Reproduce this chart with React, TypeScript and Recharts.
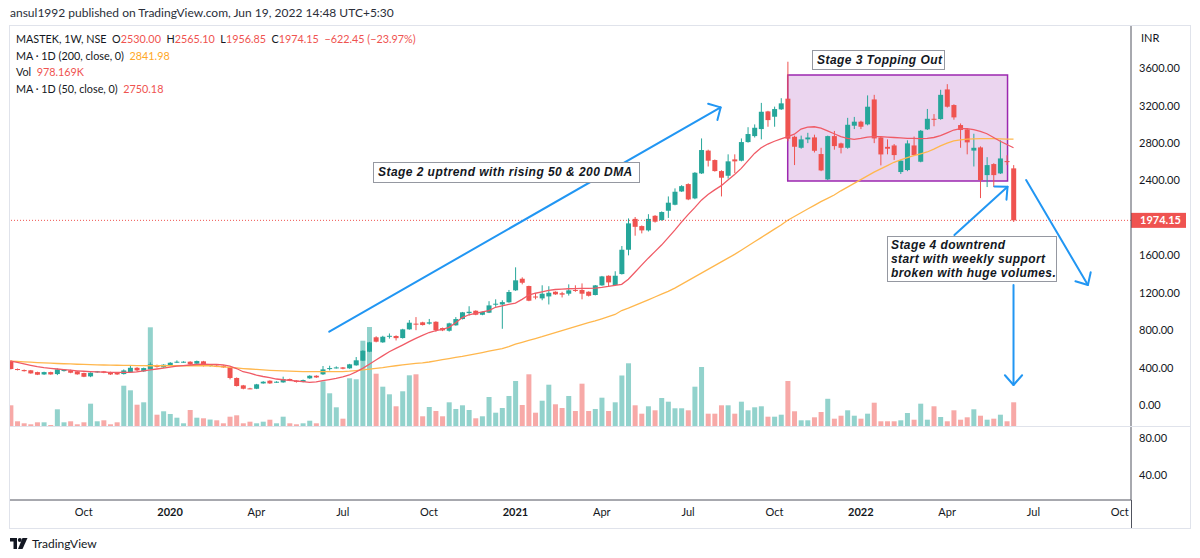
import React from 'react';
import { ComposedChart, Bar, Line, XAxis, YAxis, ReferenceLine, ReferenceArea } from 'recharts';

// Weekly candles, MASTEK NSE, from Jul 22 2019 (index 0) to Jun 13 2022 (index 151)
const opens = [470,385,374,371,352,327,352,331,363,371,360,342,306,349,360,352,345,331,349,398,360,385,428,403,424,456,456,463,442,467,
417,420,420,403,289,210,178,174,231,260,242,242,278,260,246,285,313,328,388,395,
402,392,424,474,570,724,670,730,738,716,809,870,884,870,890,823,794,852,919,983,
1008,965,987,1076,1075,1098,1226,1350,1272,1160,1140,1161,1211,1195,1190,1230,1230,1211,1176,1279,
1382,1283,1400,1660,1990,1913,1867,2023,1977,2077,2141,2283,2362,2209,2476,2720,2619,2501,2451,2626,
2612,2811,2875,2950,3139,3082,3161,3275,2868,2750,2840,2861,2683,2412,2875,2797,2750,2986,3029,3000,
3267,2861,2760,2775,2491,2512,2775,2601,2947,3060,3057,3374,3207,2993,2947,2720,2754,2458,2576,2476,
2608,2530];
const highs = [480,390,380,375,356,356,356,391,382,378,364,346,349,364,364,356,349,381,423,405,400,456,432,436,458,477,468,468,475,472,
436,426,425,408,295,215,184,226,255,264,254,303,283,264,272,318,318,417,420,413,
406,440,513,585,675,735,740,765,745,815,908,940,890,920,895,828,880,940,995,1056,
1012,999,1110,1130,1120,1230,1472,1365,1276,1190,1280,1270,1215,1210,1290,1280,1300,1215,1283,1380,
1386,1430,1700,1995,2010,1920,2040,2030,2070,2230,2316,2350,2370,2490,2850,2730,2625,2510,2680,2680,
2850,2970,3000,3230,3145,3190,3280,3670,2880,2880,2910,2890,2750,2880,2930,2805,3070,3080,3040,3310,
3316,2870,2840,2790,2620,2830,2870,2940,3165,3110,3370,3430,3215,3010,2955,2900,2765,2650,2585,2830,
2670,2565.1];
const lows = [380,370,358,335,320,322,324,320,358,340,324,298,298,345,340,322,322,326,345,356,355,380,400,398,420,450,452,430,438,412,
410,405,398,274,198,168,170,170,228,226,238,238,255,240,242,280,290,322,370,390,
382,388,420,470,565,670,665,710,690,710,805,800,850,860,783,790,785,848,915,957,
960,960,983,1050,815,1094,1220,1290,1110,1130,1120,1075,1178,1150,1170,1210,1130,1160,1172,1275,
1270,1278,1395,1600,1810,1835,1855,1950,1970,2000,2135,2278,2190,2200,2470,2550,2495,2230,2420,2480,
2605,2805,2860,2840,2975,2975,3155,2820,2565,2740,2800,2700,2500,2405,2730,2690,2740,2950,2950,2990,
2800,2562,2680,2620,2470,2500,2665,2595,2940,2980,3050,3180,3050,2750,2680,2550,2212,2330,2330,2470,
2565,1956.85];
const closes = [385,374,362,338,324,352,327,381,378,345,328,302,345,360,345,327,327,370,398,370,395,435,406,431,452,463,463,435,470,417,
431,409,403,289,203,174,174,221,249,231,249,278,260,246,267,313,295,381,395,402,
388,435,478,580,670,677,730,740,715,809,880,860,855,884,802,798,873,919,991,997,
965,994,1065,1083,1100,1208,1333,1307,1115,1150,1190,1200,1183,1180,1226,1220,1190,1168,1279,1375,
1311,1382,1660,1942,1905,1867,1990,1960,2063,2163,2280,2340,2198,2483,2726,2612,2501,2430,2605,2605,
2811,2897,2964,3135,3046,3164,3225,2847,2761,2840,2860,2718,2508,2875,2768,2750,2996,3029,2975,3189,
2850,2679,2740,2672,2612,2797,2672,2932,3060,3050,3316,3189,3075,2940,2808,2750,2405,2565,2458,2636,
2596.6,1974.15];
// volume in thousands
const volumes = [859,226,147,107,186,186,79,701,186,226,107,186,923,226,265,107,186,1635,1453,883,978,3948,487,622,515,368,147,673,368,345,
295,265,147,408,463,147,210,147,210,289,147,408,147,107,147,249,147,1810,1335,780,
329,1929,1889,3417,3960,2111,1596,1295,820,1414,2047,2087,424,792,634,424,978,713,859,673,
345,424,1188,566,752,1228,1822,871,2087,566,1041,1675,899,752,1228,634,1715,634,713,1160,
634,978,2039,2523,859,527,820,661,1148,1002,741,741,661,1596,2376,527,527,859,859,527,
1002,661,780,820,408,408,487,1822,622,265,265,384,594,1117,329,447,661,447,329,527,
962,226,226,226,265,554,289,923,289,820,396,226,661,289,384,701,447,289,329,487,
226,978.169];
const ma50 = [470,455,440,425,410,400,392,385,378,372,366,361,357,354,351,349,348,348,350,355,365,375,385,395,405,415,422,428,433,436,
435,433,430,415,390,356,340,320,305,292,278,270,263,257,250,242,248,260,272,285,
300,321,355,392,436,481,525,570,605,641,677,713,745,775,795,808,830,880,935,965,
980,995,1010,1045,1060,1075,1090,1130,1176,1195,1210,1225,1235,1240,1243,1245,1247,1247,1250,1258,
1268,1280,1290,1345,1420,1495,1570,1640,1710,1790,1870,1955,2035,2110,2190,2250,2300,2345,2405,2465,
2530,2610,2690,2750,2790,2820,2845,2870,2895,2950,2970,2975,2960,2930,2900,2870,2850,2840,2850,2865,
2870,2870,2865,2860,2855,2850,2850,2848,2850,2860,2880,2910,2940,2955,2955,2945,2925,2900,2860,2820,
2785,2750.18];
const ma200 = [470,466,462,458,454,450,447,444,441,439,436,434,432,430,428,427,425,424,423,422,421,420,420,420,420,420,420,420,420,420,
420,414,408,402,396,390,385,380,375,371,368,365,362,360,358,356,356,356,356,357,
358,362,368,375,383,392,400,410,420,430,438,445,450,460,472,485,497,509,520,533,
546,560,575,590,604,625,650,670,690,710,730,752,773,795,816,838,860,880,900,922,
945,968,1010,1035,1065,1095,1125,1155,1185,1215,1250,1290,1330,1370,1410,1450,1490,1530,1570,1610,
1655,1700,1745,1790,1835,1880,1925,1975,2015,2055,2095,2135,2175,2210,2245,2290,2330,2370,2410,2450,
2490,2525,2560,2595,2620,2645,2665,2685,2705,2735,2770,2800,2825,2835,2842,2846,2848,2848,2847,2845,
2843,2841.98];

const tickIdx = [11, 24, 37, 50, 63, 76, 89, 102, 115, 128, 141, 154, 167];
const tickLabels = ['Oct', '2020', 'Apr', 'Jul', 'Oct', '2021', 'Apr', 'Jul', 'Oct', '2022', 'Apr', 'Jul', 'Oct'];
// 2000.00 is hidden behind the last-price label in the reference
const priceTicks = [0, 400, 800, 1200, 1600, 2400, 2800, 3200, 3600];
const lowerTicks = [40, 80];
const lastPrice = 1974.15;

// drawing anchors (index, price)
const stage2Arrow = [{ x: 47.97, y: 784 }, { x: 106.9, y: 3182 }];
const stage4Arrow = [{ x: 142.1, y: 1817 }, { x: 150.1, y: 2334 }];
const downArrow = [{ x: 152.9, y: 2405 }, { x: 162.2, y: 1283 }];
const volArrow = [{ x: 151.0, y: 1283 }, { x: 151.0, y: 214 }];
const stage3Box = { x1: 117.0, x2: 150.1, y1: 2395, y2: 3528 };

const GREEN = '#26a69a';
const RED = '#ef5350';
const AXIS = '#50535e';
const TEXT = '#131722';
const FONT = 'Lato, "Open Sans", sans-serif';
const NOTE_FONT = '"Liberation Sans", Arial, sans-serif';
const XDOMAIN: [number, number] = [-0.105, 168.69];

const Candle = (props: any) => {
  const { x, y, width, height, payload } = props;
  if (x == null || y == null || !payload) return null;
  const { o, h, l, c } = payload;
  const up = c >= o;
  const color = up ? GREEN : RED;
  const span = h - l;
  const toY = (v: number) => (span === 0 ? y : y + ((h - v) / span) * height);
  const top = toY(Math.max(o, c));
  const bot = toY(Math.min(o, c));
  const cx = x + width / 2;
  return (
    <g>
      <line x1={cx} x2={cx} y1={y} y2={y + height} stroke={color} strokeWidth={1} />
      <rect x={x} y={top} width={width} height={Math.max(1, bot - top)} fill={color} />
    </g>
  );
};

const VolBar = (props: any) => {
  const { x, y, width, height, payload } = props;
  if (x == null || y == null || !payload) return null;
  const up = payload.c >= payload.o;
  return <rect x={x} y={y} width={width} height={Math.max(0, height)} fill={up ? 'rgba(38,166,154,0.5)' : 'rgba(239,83,80,0.5)'} />;
};

const makeArrow = (len: number, half: number) => (p: any) => {
  const { x1, y1, x2, y2 } = p;
  if ([x1, y1, x2, y2].some((v) => v == null || isNaN(v))) return null;
  const ang = Math.atan2(y2 - y1, x2 - x1) + Math.PI;
  const a1x = x2 + len * Math.cos(ang - half);
  const a1y = y2 + len * Math.sin(ang - half);
  const a2x = x2 + len * Math.cos(ang + half);
  const a2y = y2 + len * Math.sin(ang + half);
  return (
    <g>
      <line x1={x1} y1={y1} x2={x2} y2={y2} stroke="#2196f3" strokeWidth={2} strokeLinecap="round" />
      <polyline points={`${a1x},${a1y} ${x2},${y2} ${a2x},${a2y}`} fill="none" stroke="#2196f3" strokeWidth={2} strokeLinecap="round" strokeLinejoin="round" />
    </g>
  );
};

const PriceLabel = (props: any) => {
  const vb = props.viewBox || {};
  const x = (vb.x || 0) + (vb.width || 0);
  const y = vb.y || 0;
  return (
    <g>
      <rect x={x} y={y - 7.5} width={55} height={15} fill={RED} />
      <text x={x + 9} y={y + 4} fill="#fff" fontSize={11} fontWeight={700} fontFamily={FONT}>
        {lastPrice.toFixed(2)}
      </text>
    </g>
  );
};

const XTick = (props: any) => {
  const { x, y, payload } = props;
  const idx = tickIdx.indexOf(payload.value);
  const label = idx >= 0 ? tickLabels[idx] : '';
  const isYear = /^\d{4}$/.test(label);
  return (
    <text x={x} y={y} dy="0.71em" textAnchor="middle" fill={TEXT} fontSize={11} fontWeight={isYear ? 700 : 400} fontFamily={FONT}>
      {label}
    </text>
  );
};

const boxStyle: React.CSSProperties = {
  position: 'absolute',
  background: '#fff',
  border: '1px solid #9598a1',
  boxSizing: 'border-box',
  fontStyle: 'italic',
  fontWeight: 700,
  fontSize: 12,
  letterSpacing: 0.45,
  color: TEXT,
  fontFamily: NOTE_FONT,
  whiteSpace: 'nowrap',
  overflow: 'visible',
};

export default function App() {
  const data = opens.map((o, i) => ({
    i,
    o,
    h: highs[i],
    l: lows[i],
    c: closes[i],
    range: [lows[i], highs[i]],
    vol: volumes[i],
    ma50: ma50[i],
    ma200: ma200[i],
  }));

  const red = { color: RED };
  return (
    <div style={{ position: 'absolute', left: 0, top: 0, width: 1200, height: 558, background: '#fff', fontFamily: FONT, overflow: 'hidden' }}>
      <div style={{ position: 'absolute', left: 10, top: 5, fontSize: 12, color: '#2a2e39' }}>
        ansul1992 published on TradingView.com, Jun 19, 2022 14:48 UTC+5:30
      </div>
      <div style={{ position: 'absolute', left: 9, top: 25, width: 1182, height: 504, border: '1px solid #e0e3eb', boxSizing: 'border-box' }} />

      <div style={{ position: 'absolute', left: 0, top: 0 }}>
        <ComposedChart width={1190} height={427} data={data} margin={{ top: 26, right: 0, bottom: 0, left: 10 }}>
          <XAxis xAxisId="c" dataKey="i" type="number" domain={XDOMAIN} hide allowDataOverflow />
          <XAxis xAxisId="v" dataKey="i" type="number" domain={XDOMAIN} hide allowDataOverflow />
          <YAxis
            yAxisId="price"
            orientation="right"
            width={59}
            type="number"
            domain={[-235, 4052]}
            ticks={priceTicks}
            interval={0}
            allowDataOverflow
            tickFormatter={(v: number) => v.toFixed(2)}
            axisLine={{ stroke: AXIS }}
            tickLine={false}
            tick={{ fill: TEXT, fontSize: 11, fontFamily: FONT }}
          />
          <YAxis yAxisId="vol" hide type="number" domain={[0, 15880]} allowDataOverflow />
          <ReferenceArea
            xAxisId="c"
            yAxisId="price"
            x1={stage3Box.x1}
            x2={stage3Box.x2}
            y1={stage3Box.y1}
            y2={stage3Box.y2}
            fill="#e1bee7"
            fillOpacity={0.65}
            stroke="#9c27b0"
            strokeWidth={1.5}
            ifOverflow="visible"
          />
          <Bar xAxisId="v" yAxisId="vol" dataKey="vol" barSize={5} shape={<VolBar />} isAnimationActive={false} />
          <Line xAxisId="c" yAxisId="price" dataKey="ma200" stroke="#ffb74d" strokeWidth={1.3} dot={false} activeDot={false} isAnimationActive={false} />
          <Line xAxisId="c" yAxisId="price" dataKey="ma50" stroke="#f05b66" strokeWidth={1.3} dot={false} activeDot={false} isAnimationActive={false} />
          <Bar xAxisId="c" yAxisId="price" dataKey="range" barSize={5} shape={<Candle />} isAnimationActive={false} />
          <ReferenceLine xAxisId="c" yAxisId="price" y={lastPrice} stroke={RED} strokeDasharray="1 2" strokeWidth={1} label={<PriceLabel />} />
          <ReferenceLine xAxisId="c" yAxisId="price" segment={stage2Arrow} shape={makeArrow(13, 0.8)} ifOverflow="visible" />
          <ReferenceLine xAxisId="c" yAxisId="price" segment={stage4Arrow} shape={makeArrow(13, 0.75)} ifOverflow="visible" />
          <ReferenceLine xAxisId="c" yAxisId="price" segment={downArrow} shape={makeArrow(13, 0.75)} ifOverflow="visible" />
          <ReferenceLine xAxisId="c" yAxisId="price" segment={volArrow} shape={makeArrow(13, 0.72)} ifOverflow="visible" />
        </ComposedChart>
      </div>

      <div style={{ position: 'absolute', left: 10, top: 426, width: 1180, height: 1, background: '#e0e3eb' }} />

      <div style={{ position: 'absolute', left: 0, top: 427 }}>
        <ComposedChart width={1190} height={101} data={data} margin={{ top: 0, right: 0, bottom: 0, left: 10 }}>
          <XAxis
            dataKey="i"
            type="number"
            domain={XDOMAIN}
            ticks={tickIdx}
            interval={0}
            allowDataOverflow
            height={28}
            axisLine={{ stroke: AXIS }}
            tickLine={false}
            tick={<XTick />}
          />
          <YAxis
            orientation="right"
            width={59}
            type="number"
            domain={[13.2, 91.5]}
            ticks={lowerTicks}
            interval={0}
            allowDataOverflow
            tickFormatter={(v: number) => v.toFixed(2)}
            axisLine={{ stroke: AXIS }}
            tickLine={false}
            tick={{ fill: TEXT, fontSize: 11, fontFamily: FONT }}
          />
          <Line dataKey="none" stroke="none" dot={false} isAnimationActive={false} />
        </ComposedChart>
      </div>
      <div style={{ position: 'absolute', left: 1131, top: 500, width: 1, height: 28, background: AXIS }} />

      {/* legend */}
      <div style={{ position: 'absolute', left: 16, top: 31, fontSize: 10.8, color: TEXT, lineHeight: '16.7px', whiteSpace: 'pre' }}>
        <div>
          MASTEK, 1W, NSE{'  '}O<span style={red}>2530.00</span>{'  '}H<span style={red}>2565.10</span>{'  '}L<span style={red}>1956.85</span>{'  '}C
          <span style={red}>1974.15</span>{'  '}<span style={red}>−622.45 (−23.97%)</span>
        </div>
        <div>
          MA · 1D (200, close, 0){'  '}<span style={{ color: '#ffa726' }}>2841.98</span>
        </div>
        <div>
          Vol{'  '}<span style={red}>978.169K</span>
        </div>
        <div>
          MA · 1D (50, close, 0){'  '}<span style={red}>2750.18</span>
        </div>
      </div>
      <div style={{ position: 'absolute', left: 1141, top: 31, fontSize: 11, color: TEXT }}>INR</div>

      {/* annotation text boxes */}
      <div style={{ ...boxStyle, left: 373, top: 162, width: 267, height: 21, paddingLeft: 4, lineHeight: '19px' }}>
        Stage 2 uptrend with rising 50 &amp; 200 DMA
      </div>
      <div style={{ ...boxStyle, left: 812, top: 50, width: 133, height: 20, paddingLeft: 4, lineHeight: '18px' }}>
        Stage 3 Topping Out
      </div>
      <div style={{ ...boxStyle, left: 887, top: 236, width: 170, height: 46, paddingLeft: 3, paddingTop: 1, lineHeight: '14px', letterSpacing: 0.42 }}>
        <div>Stage 4 downtrend</div>
        <div>start with weekly support</div>
        <div>broken with huge volumes.</div>
      </div>

      {/* footer logo */}
      <div style={{ position: 'absolute', left: 10, top: 536, display: 'flex', alignItems: 'center', gap: 4 }}>
        <svg width={18} height={12} viewBox="0 0 18 12">
          <path d="M0 0 H7 V11 H3.5 V3.5 H0 Z" fill="#131722" />
          <circle cx={9.8} cy={2} r={2} fill="#131722" />
          <path d="M12.5 0 H17.5 L12.5 11 H8 Z" fill="#131722" />
        </svg>
        <span style={{ fontSize: 12, color: TEXT }}>TradingView</span>
      </div>
    </div>
  );
}
